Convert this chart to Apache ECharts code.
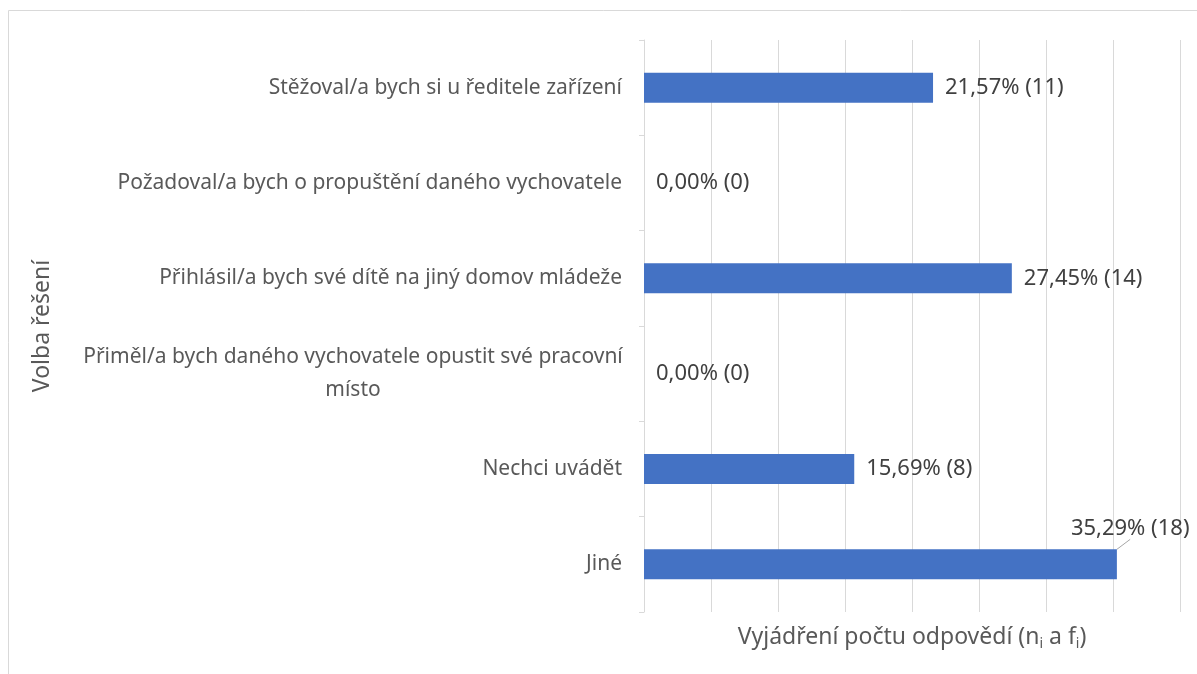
<!DOCTYPE html>
<html>
<head>
<meta charset="utf-8">
<script src="https://cdn.jsdelivr.net/npm/echarts@6/dist/echarts.min.js"></script>
<style>
html, body { margin: 0; padding: 0; background: #fff; }
#chart { width: 1197px; height: 674px; }
</style>
</head>
<body>
<div id="chart"></div>
<script>
var categories = [
    'Stěžoval/a bych si u ředitele zařízení',
    'Požadoval/a bych o propuštění daného vychovatele',
    'Přihlásil/a bych své dítě na jiný domov mládeže',
    'Přiměl/a bych daného vychovatele opustit své pracovní místo',
    'Nechci uvádět',
    'Jiné'
];
var percents = [21.57, 0, 27.45, 0, 15.69, 35.29];
var counts = [11, 0, 14, 0, 8, 18];

var chart = echarts.init(document.getElementById('chart'));
var font = '"Noto Sans", "DejaVu Sans", sans-serif';

// only the last bar has its label moved up with a leader line
var barData = percents.map(function (v, i) {
    return {
        value: v,
        labelLine: { show: i === 5, lineStyle: { color: '#a6a6a6', width: 1 } }
    };
});

var option = {
    animation: false,
    textStyle: { fontFamily: font },
    graphic: [{
        type: 'rect',
        shape: { x: 8.5, y: 10.5, width: 1250, height: 700 },
        style: { fill: 'none', stroke: '#d9d9d9', lineWidth: 1 },
        silent: true
    }],
    grid: { left: 644, right: 17, top: 40, bottom: 62 },
    xAxis: {
        type: 'value',
        min: 0,
        max: 40,
        interval: 5,
        axisLabel: { show: false },
        axisTick: { show: false },
        axisLine: { show: false },
        splitLine: { lineStyle: { color: '#d9d9d9', width: 1 } },
        name: 'Vyjádření počtu odpovědí (n{s|i} a f{s|i})',
        nameLocation: 'middle',
        nameGap: 11,
        nameTextStyle: {
            fontSize: 23,
            color: '#595959',
            verticalAlign: 'top',
            rich: { s: { fontSize: 14, color: '#595959', padding: [14, 0, 0, 0] } }
        }
    },
    yAxis: {
        type: 'category',
        inverse: true,
        data: categories,
        axisLine: { lineStyle: { color: '#d9d9d9' } },
        axisTick: { show: true, length: 5, lineStyle: { color: '#d9d9d9' } },
        axisLabel: {
            fontSize: 21,
            color: '#595959',
            margin: 22,
            formatter: function (v) {
                if (v.indexOf('Přiměl') === 0) {
                    return '{c|Přiměl/a bych daného vychovatele opustit své pracovní}\n{c|místo}';
                }
                return v;
            },
            rich: {
                c: { fontSize: 21, color: '#595959', width: 538, align: 'center', lineHeight: 33 }
            }
        },
        name: 'Volba řešení',
        nameLocation: 'middle',
        nameGap: 590,
        nameRotate: 90,
        nameTextStyle: { fontSize: 23, color: '#595959' }
    },
    series: [{
        type: 'bar',
        data: barData,
        barWidth: 30,
        itemStyle: { color: '#4472c4' },
        label: {
            show: true,
            position: 'right',
            distance: 12,
            fontSize: 22,
            color: '#404040',
            formatter: function (p) {
                return percents[p.dataIndex].toFixed(2).replace('.', ',') + '% (' + counts[p.dataIndex] + ')';
            }
        },
        labelLayout: function (p) {
            if (p.dataIndex === 5) {
                return { dx: -58, dy: -36 };
            }
            return {};
        }
    }]
};
chart.setOption(option);
</script>
</body>
</html>
